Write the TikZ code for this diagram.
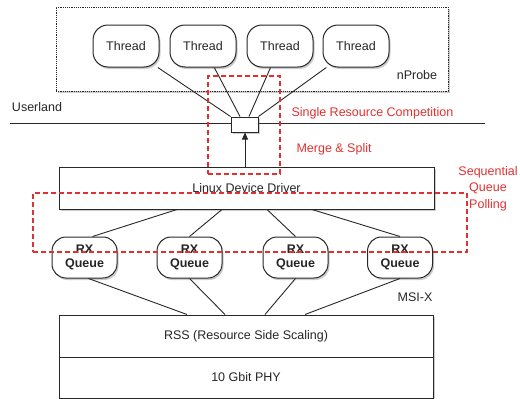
\documentclass[tikz,border=0pt]{standalone}
\usepackage{fontspec}
\setmainfont{Liberation Sans}
\usetikzlibrary{arrows.meta,shadows,calc}
\definecolor{hotred}{RGB}{226,48,48}
\definecolor{edge}{RGB}{40,40,40}
\begin{document}
\begin{tikzpicture}[x=1pt,y=-1pt,
  txt/.style={font=\fontsize{12.5}{15}\selectfont, text=black!85},
  redtxt/.style={font=\fontsize{12.5}{16.5}\selectfont, text=hotred},
  shad/.style={drop shadow={opacity=0.4, shadow xshift=1.5pt, shadow yshift=-2pt}},
  thread/.style={draw=edge, line width=1pt, fill=white, rounded corners=15pt, minimum width=66pt, minimum height=42pt, inner sep=0pt, txt, shad},
  queue/.style={draw=edge, line width=1pt, fill=white, rounded corners=14pt, minimum width=65pt, minimum height=41pt, inner sep=0pt, align=center, font=\fontsize{12.5}{15}\selectfont\bfseries, text=black!85, shad},
  layer/.style={draw=edge, line width=1pt, fill=white, inner sep=0pt, txt, shad},
  conn/.style={draw=edge, line width=0.9pt},
  reddash/.style={draw=hotred, line width=1.1pt, dash pattern=on 5pt off 3pt}
]
\useasboundingbox (0,0) rectangle (520,399);

% nProbe container
\node[draw=edge, line width=0.9pt, dash pattern=on 1.2pt off 1pt, fill=white, minimum width=392pt, minimum height=84pt, inner sep=0pt, shad] (np) at (252,49) {};
\node[txt, anchor=center] (npl) at (417,75) {nProbe};

% Userland separator
\coordinate (ul) at (10,123);
\coordinate (ur) at (485,123);
\draw[edge, line width=0.9pt] (ul) -- (ur);
\node[txt] (usr) at (37,107) {Userland};

% Threads
\node[thread] (t1) at (126,46) {Thread};
\node[thread] (t2) at (203,46) {Thread};
\node[thread] (t3) at (280,46) {Thread};
\node[thread] (t4) at (356,46) {Thread};

% merge box
\node[draw=edge, line width=1pt, fill=white, minimum width=27pt, minimum height=15pt, inner sep=0pt, shad] (m) at (244.5,124.5) {};
\draw[conn] (t1) -- (m.north west);
\draw[conn] (t2) -- ([xshift=-4.5pt]m.north);
\draw[conn] (t3) -- ([xshift=4.5pt]m.north);
\draw[conn] (t4) -- (m.north east);

% Linux device driver
\node[layer, minimum width=375pt, minimum height=42pt] (drv) at (246.5,188) {};
\node[txt] (drvl) at (246.5,188) {Linux Device Driver};
\draw[conn, -{Triangle[length=7pt,width=6pt]}] ([xshift=-1.5pt]drv.north) -- ([xshift=0.5pt]m.south);

% RX queues
\node[queue] (q1) at (84.5,257.5) {RX\\[-1pt]Queue};
\node[queue] (q2) at (189.5,257.5) {RX\\[-1pt]Queue};
\node[queue] (q3) at (295.5,257.5) {RX\\[-1pt]Queue};
\node[queue] (q4) at (400,257.5) {RX\\[-1pt]Queue};

\draw[conn] ([xshift=-69.5pt]drv.south) -- ([xshift=8pt]q1.north);
\draw[conn] ([xshift=-24.5pt]drv.south) -- (q2.north);
\draw[conn] ([xshift=20.5pt]drv.south) -- (q3.north);
\draw[conn] ([xshift=65.5pt]drv.south) -- (q4.north);

% RSS and PHY
\node[layer, minimum width=374pt, minimum height=42pt] (rss) at (246,336) {RSS (Resource Side Scaling)};
\node[layer, minimum width=374pt, minimum height=41pt] (phy) at (246,377.5) {10 Gbit PHY};

\draw[conn] ([xshift=4pt]q1.south) -- ([xshift=-59pt]rss.north);
\draw[conn] (q2.south) -- ([xshift=-21pt]rss.north);
\draw[conn] (q3.south) -- ([xshift=19pt]rss.north);
\draw[conn] (q4.south) -- ([xshift=59pt]rss.north);
\node[txt] (msi) at (415,297) {MSI-X};

% red annotations
\node[reddash, minimum width=72pt, minimum height=98pt, inner sep=0pt] (r1) at (244,125) {};
\node[reddash, minimum width=434pt, minimum height=59pt, inner sep=0pt] (r2) at (250,222.5) {};
\node[redtxt, anchor=west] (src) at (288,113) {Single Resource Competition};
\node[redtxt, anchor=west] (ms) at (293,149) {Merge \& Split};
\node[redtxt, align=center] (sqp) at (488,188.5) {Sequential\\Queue\\Polling};
\end{tikzpicture}
\end{document}
